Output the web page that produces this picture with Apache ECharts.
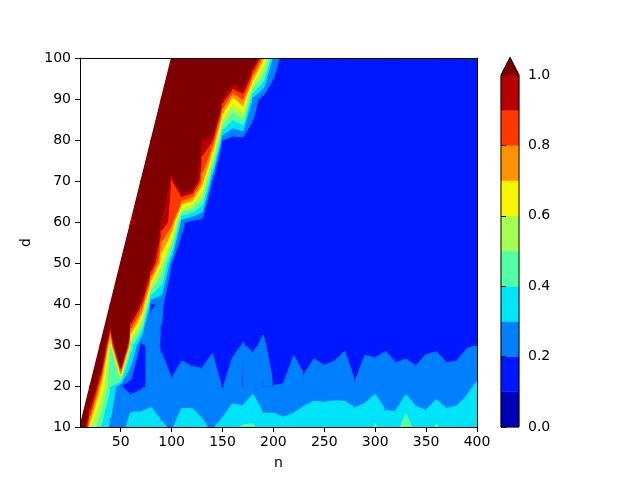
<!DOCTYPE html>
<html><head><meta charset="utf-8">
<script src="https://cdn.jsdelivr.net/npm/echarts@6/dist/echarts.min.js"></script>
<style>html,body{margin:0;padding:0;background:#fff}#c{width:640px;height:480px}</style>
</head><body><div id="c"></div>
<script>
// grid coordinates
const nValues = [10,20,30,40,50,60,70,80,90,100,110,120,130,140,150,160,170,180,190,200,210,220,230,240,250,260,270,280,290,300,310,320,330,340,350,360,370,380,390,400];
const dValues = [10,20,30,40,50,60,70,80,90,100];
// values per d row (n = 10..400); null where d > n
const zD10 = [1.3,0.6,0.4,0.27,0.2,0.38,0.37,0.37,0.31,0.29, 0.34,0.34,0.31,0.29,0.33,0.35,0.41,0.41,0.35,0.35, 0.33,0.32,0.37,0.35,0.36,0.37,0.35,0.38,0.34,0.41, 0.32,0.33,0.47,0.35,0.32,0.41,0.34,0.34,0.36,0.36];
const zD20 = [null,1.3,0.7,0.4,0.2,0.15,0.18,0.22,0.24,0.21, 0.25,0.25,0.26,0.26,0.19,0.26,0.195,0.27,0.2,0.2, 0.203,0.26,0.23,0.27,0.26,0.26,0.27,0.205,0.27,0.27, 0.27,0.25,0.25,0.25,0.27,0.243,0.25,0.26,0.28,0.31];
const zD30 = [null,null,1.5,0.45,1.8,0.45,0.16,0.24,0.19,0.15, 0.167,0.144,0.12,0.183,0.15,0.172,0.203,0.183,0.215,0.15, 0.15,0.178,0.119,0.162,0.14,0.16,0.186,0.15,0.175,0.167, 0.186,0.161,0.173,0.146,0.178,0.191,0.161,0.16,0.191,0.2];
const zD40 = [null,null,null,1.5,1.8,1.3,0.9,0.19,0.21,0.15, 0.15,0.15,0.15,0.15,0.15,0.15,0.15,0.15,0.15,0.15, 0.15,0.15,0.15,0.15,0.15,0.15,0.15,0.15,0.15,0.15, 0.15,0.15,0.15,0.15,0.15,0.15,0.15,0.15,0.15,0.15];
const zD50 = [null,null,null,null,1.8,1.6,1.5,1.05,0.6,0.2, 0.15,0.15,0.15,0.15,0.15,0.15,0.15,0.15,0.15,0.15, 0.15,0.15,0.15,0.15,0.15,0.15,0.15,0.15,0.15,0.15, 0.15,0.15,0.15,0.15,0.15,0.15,0.15,0.15,0.15,0.15];
const zD60 = [null,null,null,null,null,0.93,1.1,1.5,0.97,0.85, 0.22,0.15,0.15,0.15,0.15,0.15,0.15,0.15,0.15,0.15, 0.15,0.15,0.15,0.15,0.15,0.15,0.15,0.15,0.15,0.15, 0.15,0.15,0.15,0.15,0.15,0.15,0.15,0.15,0.15,0.15];
const zD70 = [null,null,null,null,null,null,1.4,1.6,1.5,0.85, 1.3,1.2,0.75,0.19,0.15,0.15,0.15,0.15,0.15,0.15, 0.15,0.15,0.15,0.15,0.15,0.15,0.15,0.15,0.15,0.15, 0.15,0.15,0.15,0.15,0.15,0.15,0.15,0.15,0.15,0.15];
const zD80 = [null,null,null,null,null,null,null,1.6,1.6,1.6, 1.6,1.5,0.99,0.9,0.2,0.15,0.15,0.15,0.15,0.15, 0.15,0.15,0.15,0.15,0.15,0.15,0.15,0.15,0.15,0.15, 0.15,0.15,0.15,0.15,0.15,0.15,0.15,0.15,0.15,0.15];
const zD90 = [null,null,null,null,null,null,null,null,1.6,1.6, 1.6,1.6,1.6,1.6,0.97,0.65,0.8,0.25,0.15,0.15, 0.15,0.15,0.15,0.15,0.15,0.15,0.15,0.15,0.15,0.15, 0.15,0.15,0.15,0.15,0.15,0.15,0.15,0.15,0.15,0.15];
const zD100 = [null,null,null,null,null,null,null,null,null,1.6, 1.6,1.6,1.6,1.6,1.6,1.6,1.5,1.16,0.72,0.25, 0.16,0.15,0.15,0.15,0.15,0.15,0.15,0.15,0.15,0.15, 0.15,0.15,0.15,0.15,0.15,0.15,0.15,0.15,0.15,0.15];

const levels = [0,0.1,0.2,0.3,0.4,0.5,0.6,0.7,0.8,0.9,1.0];
const bandColors = ['#0000B6','#0018FF','#0080FF','#00E4F8','#53FFA4','#A4FF53','#F8F500','#FF9400','#FF3800','#B60000'];
const overColor = '#800000';
const xTicks = [50,100,150,200,250,300,350,400];
const cbTicks = [0,0.2,0.4,0.6,0.8,1.0];

const zRows = [zD10,zD20,zD30,zD40,zD50,zD60,zD70,zD80,zD90,zD100];

const cells = [];
for (let j = 0; j < dValues.length - 1; j++)
  for (let i = 0; i < nValues.length - 1; i++)
    cells.push([nValues[i], dValues[j], i, j]);

function clipEdge(p, q, lo, hi, out) {
  const va = p.v, vb = q.v;
  let t0, t1;
  if (va === vb) {
    if (va >= lo && va <= hi) { t0 = 0; t1 = 1; } else return;
  } else {
    const ta = (lo - va) / (vb - va), tb = (hi - va) / (vb - va);
    t0 = Math.max(0, Math.min(ta, tb));
    t1 = Math.min(1, Math.max(ta, tb));
    if (t0 > t1) return;
  }
  out.push([p.x + (q.x - p.x) * t0, p.y + (q.y - p.y) * t0]);
  if (t1 > t0) out.push([p.x + (q.x - p.x) * t1, p.y + (q.y - p.y) * t1]);
}

function renderCell(params, api) {
  const i = api.value(2), j = api.value(3);
  const idx = [[i,j],[i+1,j],[i+1,j+1],[i,j+1]];
  const corners = [];
  idx.forEach(([a,b]) => {
    const v = zRows[b][a];
    if (v !== null && v !== undefined) corners.push({x: nValues[a], y: dValues[b], v: v});
  });
  if (corners.length < 3) return null;
  const children = [];
  const nb = levels.length;
  for (let k = 0; k < nb; k++) {
    const lo = k === 0 ? -Infinity : levels[k];
    const hi = k < nb - 1 ? levels[k + 1] : Infinity;
    const color = k < nb - 1 ? bandColors[k] : overColor;
    const pts = [];
    for (let e = 0; e < corners.length; e++) clipEdge(corners[e], corners[(e + 1) % corners.length], lo, hi, pts);
    const px = [];
    pts.forEach(p => {
      const c = api.coord(p);
      const last = px[px.length - 1];
      if (!last || Math.abs(last[0] - c[0]) > 1e-6 || Math.abs(last[1] - c[1]) > 1e-6) px.push(c);
    });
    if (px.length > 1) {
      const f = px[0], l = px[px.length - 1];
      if (Math.abs(f[0] - l[0]) < 1e-6 && Math.abs(f[1] - l[1]) < 1e-6) px.pop();
    }
    if (px.length < 3) continue;
    let area = 0;
    for (let m = 0; m < px.length; m++) {
      const p1 = px[m], p2 = px[(m + 1) % px.length];
      area += p1[0] * p2[1] - p2[0] * p1[1];
    }
    if (Math.abs(area) / 2 < 0.05) continue;
    children.push({type: 'polygon', shape: {points: px}, style: {fill: color, stroke: color, lineWidth: 1.4, lineJoin: 'round'}});
  }
  return {type: 'group', children: children};
}

const cbData = [];
for (let k = 0; k < bandColors.length; k++) cbData.push([levels[k], levels[k + 1], k]);
cbData.push([1.0, 1.0, -1]);

function renderCb(params, api) {
  const lo = api.value(0), hi = api.value(1), k = api.value(2);
  const pBot = api.coord([0, 0]);
  const pTop = api.coord([1, 1.0]);
  if (k >= 0) {
    const a = api.coord([0, lo]), b = api.coord([1, hi]);
    return {type: 'rect', shape: {x: a[0], y: b[1], width: b[0] - a[0], height: a[1] - b[1]},
      style: {fill: bandColors[k], stroke: bandColors[k], lineWidth: 0.5}};
  }
  const ext = 0.05 * (pBot[1] - pTop[1]);
  const xl = pBot[0], xr = pTop[0], yt = pTop[1];
  const apex = [(xl + xr) / 2, yt - ext];
  return {type: 'group', children: [
    {type: 'polygon', shape: {points: [[xl, yt], apex, [xr, yt]]}, style: {fill: overColor, stroke: overColor, lineWidth: 0.5}},
    {type: 'polygon', shape: {points: [[xl, pBot[1]], [xl, yt], apex, [xr, yt], [xr, pBot[1]]]},
      style: {fill: null, stroke: '#000', lineWidth: 1}, z2: 10}
  ]};
}

const font = 'DejaVu Sans';
const lab = {color: '#000', fontFamily: font, fontSize: 14};
const chart = echarts.init(document.getElementById('c'), null, {renderer: 'canvas'});
chart.setOption({
  animation: false,
  backgroundColor: '#fff',
  textStyle: {fontFamily: font},
  grid: [
    {left: 80, top: 58, width: 397, height: 369, containLabel: false},
    {left: 501, top: 75, width: 18, height: 352, containLabel: false}
  ],
  xAxis: [
    {type: 'value', gridIndex: 0, min: 10, max: 400, position: 'bottom', z: 5,
     name: 'n', nameLocation: 'middle', nameGap: 29, nameTextStyle: lab,
     axisLine: {show: true, onZero: false, lineStyle: {color: '#000', width: 1}},
     axisTick: {show: true, length: 5, lineStyle: {color: '#000'}, customValues: xTicks},
     axisLabel: {show: true, margin: 8, ...lab, customValues: xTicks},
     splitLine: {show: false}},
    {type: 'value', gridIndex: 0, min: 10, max: 400, position: 'top', z: 5,
     axisLine: {show: true, onZero: false, lineStyle: {color: '#000', width: 1}},
     axisTick: {show: false}, axisLabel: {show: false}, splitLine: {show: false}},
    {type: 'value', gridIndex: 1, min: 0, max: 1, show: false}
  ],
  yAxis: [
    {type: 'value', gridIndex: 0, min: 10, max: 100, interval: 10, position: 'left', z: 5,
     name: 'd', nameLocation: 'middle', nameGap: 32, nameTextStyle: lab,
     axisLine: {show: true, onZero: false, lineStyle: {color: '#000', width: 1}},
     axisTick: {show: true, length: 5, lineStyle: {color: '#000'}},
     axisLabel: {show: true, margin: 9, ...lab},
     splitLine: {show: false}},
    {type: 'value', gridIndex: 0, min: 10, max: 100, position: 'right', z: 5,
     axisLine: {show: true, onZero: false, lineStyle: {color: '#000', width: 1}},
     axisTick: {show: false}, axisLabel: {show: false}, splitLine: {show: false}},
    {type: 'value', gridIndex: 1, min: 0, max: 1, interval: 0.2, position: 'right', z: 5,
     axisLine: {show: false},
     axisTick: {show: true, length: 5, lineStyle: {color: '#000'}},
     axisLabel: {show: true, margin: 9, ...lab, formatter: v => v.toFixed(1)},
     splitLine: {show: false}}
  ],
  series: [
    {type: 'custom', coordinateSystem: 'cartesian2d', xAxisIndex: 0, yAxisIndex: 0, z: 1,
     silent: true, data: cells, encode: {x: 0, y: 1}, renderItem: renderCell, clip: true},
    {type: 'custom', coordinateSystem: 'cartesian2d', xAxisIndex: 2, yAxisIndex: 2, z: 1,
     silent: true, data: cbData, encode: {y: [0, 1]}, renderItem: renderCb, clip: false}
  ]
});
</script>
</body></html>
